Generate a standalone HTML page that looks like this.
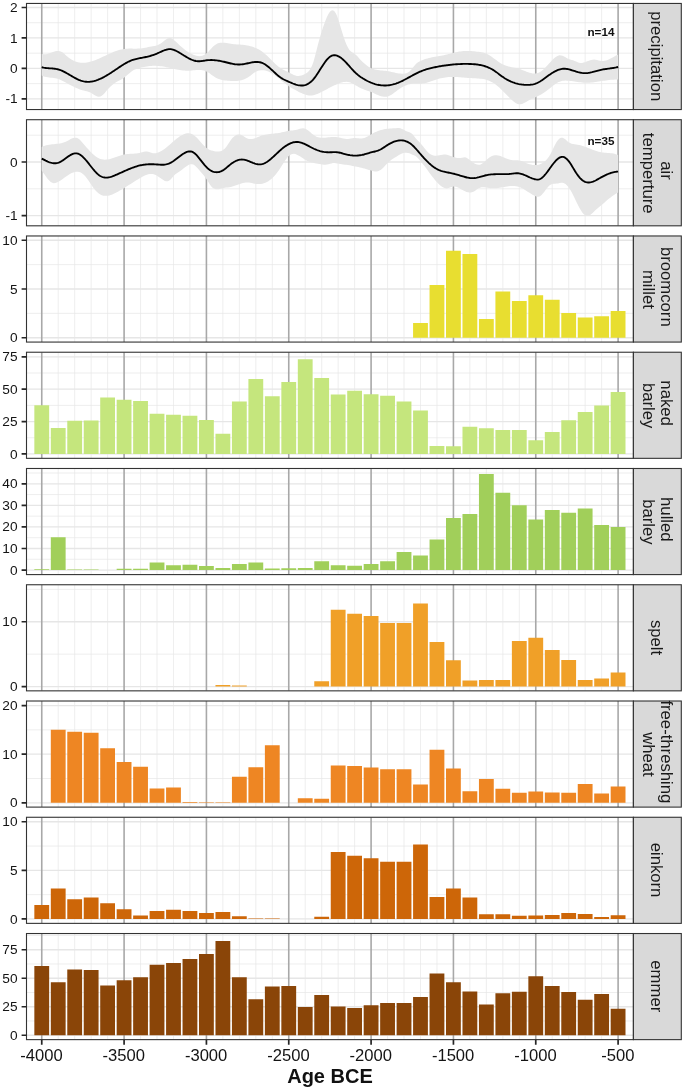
<!DOCTYPE html>
<html lang="en"><head><meta charset="utf-8"><title>Age BCE chart</title>
<style>html,body{margin:0;padding:0;background:#fff}body{width:685px;height:1090px;overflow:hidden}svg{display:block}</style></head>
<body>
<svg width="685" height="1090" viewBox="0 0 685 1090" font-family="'Liberation Sans', sans-serif">
<rect width="685" height="1090" fill="#fff"/>
<defs>
<clipPath id="c0"><rect x="26.5" y="3.45" width="606.9" height="106.1"/></clipPath>
<clipPath id="c1"><rect x="26.5" y="119.71" width="606.9" height="106.1"/></clipPath>
<clipPath id="c2"><rect x="26.5" y="235.97" width="606.9" height="106.1"/></clipPath>
<clipPath id="c3"><rect x="26.5" y="352.23" width="606.9" height="106.1"/></clipPath>
<clipPath id="c4"><rect x="26.5" y="468.49" width="606.9" height="106.1"/></clipPath>
<clipPath id="c5"><rect x="26.5" y="584.75" width="606.9" height="106.1"/></clipPath>
<clipPath id="c6"><rect x="26.5" y="701.01" width="606.9" height="106.1"/></clipPath>
<clipPath id="c7"><rect x="26.5" y="817.27" width="606.9" height="106.1"/></clipPath>
<clipPath id="c8"><rect x="26.5" y="933.53" width="606.9" height="106.1"/></clipPath>
</defs>
<g clip-path="url(#c0)">
<path d="M26.5,83.62H633.4M26.5,53.18H633.4M26.5,22.73H633.4M58.22,3.45V109.55M74.68,3.45V109.55M91.15,3.45V109.55M107.62,3.45V109.55M140.55,3.45V109.55M157.02,3.45V109.55M173.49,3.45V109.55M189.95,3.45V109.55M222.89,3.45V109.55M239.35,3.45V109.55M255.82,3.45V109.55M272.29,3.45V109.55M305.22,3.45V109.55M321.69,3.45V109.55M338.16,3.45V109.55M354.62,3.45V109.55M387.56,3.45V109.55M404.02,3.45V109.55M420.49,3.45V109.55M436.96,3.45V109.55M469.89,3.45V109.55M486.36,3.45V109.55M502.83,3.45V109.55M519.29,3.45V109.55M552.23,3.45V109.55M568.69,3.45V109.55M585.16,3.45V109.55M601.63,3.45V109.55" stroke="#e7e7e7" stroke-width="0.7" fill="none"/>
<path d="M26.5,98.85H633.4M26.5,68.4H633.4M26.5,37.95H633.4M26.5,7.5H633.4" stroke="#e6e6e6" stroke-width="1.3" fill="none"/>
<path d="M41.75,3.45V109.55M124.09,3.45V109.55M206.42,3.45V109.55M288.75,3.45V109.55M371.09,3.45V109.55M453.43,3.45V109.55M535.76,3.45V109.55M618.1,3.45V109.55" stroke="#a8a8a8" stroke-width="1.6" fill="none"/>
<path d="M41.75,54L43.25,54.31L44.75,54.34L46.25,54.14L47.75,53.78L49.25,53.3L50.76,52.75L52.26,52.2L53.76,51.69L55.26,51.28L56.76,51.02L58.26,50.97L59.76,51.18L61.26,51.71L62.76,52.6L64.26,53.79L65.76,55.13L67.27,56.46L68.77,57.67L70.27,58.77L71.77,59.74L73.27,60.58L74.77,61.27L76.27,61.82L77.77,62.24L79.27,62.53L80.77,62.7L82.27,62.77L83.78,62.75L85.28,62.64L86.78,62.44L88.28,62.17L89.78,61.83L91.28,61.42L92.78,60.96L94.28,60.44L95.78,59.88L97.28,59.28L98.78,58.65L100.29,57.99L101.79,57.31L103.29,56.61L104.79,55.91L106.29,55.2L107.79,54.5L109.29,53.81L110.79,53.14L112.29,52.49L113.79,51.87L115.29,51.29L116.79,50.75L118.3,50.26L119.8,49.82L121.3,49.44L122.8,49.13L124.3,48.9L125.8,48.74L127.3,48.64L128.8,48.59L130.3,48.59L131.8,48.6L133.3,48.63L134.81,48.65L136.31,48.65L137.81,48.62L139.31,48.55L140.81,48.42L142.31,48.22L143.81,47.97L145.31,47.69L146.81,47.4L148.31,47.11L149.81,46.85L151.32,46.59L152.82,46.33L154.32,46.02L155.82,45.63L157.32,45.15L158.82,44.53L160.32,43.75L161.82,42.78L163.32,41.62L164.82,40.37L166.32,39.23L167.83,38.34L169.33,37.89L170.83,38.03L172.33,38.79L173.83,39.91L175.33,41.19L176.83,42.56L178.33,43.99L179.83,45.42L181.33,46.8L182.83,48.1L184.34,49.3L185.84,50.41L187.34,51.44L188.84,52.38L190.34,53.26L191.84,54.06L193.34,54.76L194.84,55.34L196.34,55.78L197.84,56.06L199.34,56.15L200.85,56.03L202.35,55.69L203.85,55.09L205.35,54.23L206.85,53.07L208.35,51.64L209.85,50.06L211.35,48.43L212.85,46.87L214.35,45.5L215.85,44.41L217.36,43.62L218.86,43.08L220.36,42.76L221.86,42.63L223.36,42.66L224.86,42.79L226.36,43.02L227.86,43.28L229.36,43.56L230.86,43.82L232.36,44.03L233.87,44.19L235.37,44.31L236.87,44.41L238.37,44.51L239.87,44.61L241.37,44.73L242.87,44.87L244.37,45.04L245.87,45.25L247.37,45.5L248.87,45.8L250.37,46.16L251.88,46.58L253.38,47.07L254.88,47.63L256.38,48.28L257.88,49.01L259.38,49.85L260.88,50.78L262.38,51.82L263.88,52.98L265.38,54.25L266.88,55.62L268.39,57.07L269.89,58.56L271.39,60.07L272.89,61.57L274.39,63.04L275.89,64.45L277.39,65.78L278.89,66.99L280.39,68.07L281.89,69L283.39,69.81L284.9,70.54L286.4,71.24L287.9,71.94L289.4,72.7L290.9,73.51L292.4,74.3L293.9,75.01L295.4,75.57L296.9,75.92L298.4,76L299.9,75.84L301.41,75.47L302.91,74.92L304.41,74.24L305.91,73.46L307.41,72.49L308.91,71.09L310.41,69.03L311.91,66.06L313.41,61.95L314.91,56.62L316.41,50.65L317.92,44.74L319.42,39.18L320.92,33.99L322.42,29.16L323.92,24.72L325.42,20.68L326.92,17.09L328.42,14.06L329.92,11.77L331.42,10.42L332.92,10.17L334.43,11.19L335.93,13.46L337.43,16.92L338.93,21.39L340.43,26.43L341.93,31.55L343.43,36.34L344.93,40.65L346.43,44.42L347.93,47.55L349.43,49.95L350.94,51.53L352.44,52.5L353.94,53.31L355.44,54.4L356.94,55.86L358.44,57.51L359.94,59.16L361.44,60.72L362.94,62.19L364.44,63.55L365.94,64.8L367.44,65.92L368.95,66.91L370.45,67.77L371.95,68.48L373.45,69.04L374.95,69.49L376.45,69.83L377.95,70.1L379.45,70.3L380.95,70.45L382.45,70.59L383.95,70.71L385.46,70.86L386.96,71.04L388.46,71.28L389.96,71.56L391.46,71.89L392.96,72.23L394.46,72.58L395.96,72.91L397.46,73.2L398.96,73.44L400.46,73.62L401.97,73.71L403.47,73.69L404.97,73.55L406.47,73.22L407.97,72.6L409.47,71.59L410.97,70.12L412.47,68.29L413.97,66.35L415.47,64.54L416.97,63.1L418.48,62.04L419.98,61.22L421.48,60.53L422.98,59.91L424.48,59.35L425.98,58.86L427.48,58.41L428.98,58.01L430.48,57.65L431.98,57.33L433.48,57.03L434.99,56.75L436.49,56.48L437.99,56.22L439.49,55.96L440.99,55.7L442.49,55.43L443.99,55.13L445.49,54.81L446.99,54.46L448.49,54.1L449.99,53.72L451.5,53.33L453,52.95L454.5,52.58L456,52.23L457.5,51.91L459,51.62L460.5,51.38L462,51.18L463.5,51.05L465,50.96L466.5,50.92L468.01,50.93L469.51,50.97L471.01,51.05L472.51,51.17L474.01,51.3L475.51,51.46L477.01,51.64L478.51,51.83L480.01,52.04L481.51,52.3L483.01,52.62L484.52,53.05L486.02,53.59L487.52,54.28L489.02,55.11L490.52,56.04L492.02,57.06L493.52,58.13L495.02,59.23L496.52,60.33L498.02,61.41L499.52,62.44L501.02,63.39L502.53,64.24L504.03,64.97L505.53,65.57L507.03,66.08L508.53,66.51L510.03,66.87L511.53,67.2L513.03,67.5L514.53,67.8L516.03,68.12L517.53,68.47L519.04,68.88L520.54,69.35L522.04,69.88L523.54,70.46L525.04,71.04L526.54,71.63L528.04,72.18L529.54,72.69L531.04,73.11L532.54,73.4L534.04,73.53L535.55,73.47L537.05,73.17L538.55,72.64L540.05,71.88L541.55,70.91L543.05,69.74L544.55,68.38L546.05,66.86L547.55,65.22L549.05,63.54L550.55,61.88L552.06,60.28L553.56,58.8L555.06,57.52L556.56,56.47L558.06,55.73L559.56,55.35L561.06,55.39L562.56,55.82L564.06,56.52L565.56,57.36L567.06,58.22L568.57,58.98L570.07,59.53L571.57,59.96L573.07,60.37L574.57,60.9L576.07,61.54L577.57,62.18L579.07,62.69L580.57,62.94L582.07,62.89L583.57,62.6L585.08,62.14L586.58,61.57L588.08,60.96L589.58,60.39L591.08,59.93L592.58,59.63L594.08,59.58L595.58,59.75L597.08,60.08L598.58,60.45L600.08,60.79L601.59,61L603.09,61.01L604.59,60.83L606.09,60.47L607.59,59.96L609.09,59.33L610.59,58.61L612.09,57.81L613.59,56.97L615.09,56.1L616.59,55.24L618.1,54.4L618.1,79.61L616.59,79.57L615.09,79.58L613.59,79.63L612.09,79.73L610.59,79.86L609.09,80.02L607.59,80.2L606.09,80.41L604.59,80.63L603.09,80.87L601.59,81.1L600.08,81.34L598.58,81.58L597.08,81.81L595.58,82.02L594.08,82.22L592.58,82.39L591.08,82.53L589.58,82.64L588.08,82.7L586.58,82.73L585.08,82.71L583.57,82.63L582.07,82.52L580.57,82.36L579.07,82.18L577.57,81.97L576.07,81.76L574.57,81.54L573.07,81.32L571.57,81.11L570.07,80.93L568.57,80.77L567.06,80.65L565.56,80.59L564.06,80.64L562.56,80.81L561.06,81.14L559.56,81.65L558.06,82.35L556.56,83.21L555.06,84.2L553.56,85.29L552.06,86.45L550.55,87.66L549.05,88.88L547.55,90.09L546.05,91.25L544.55,92.35L543.05,93.35L541.55,94.25L540.05,95.07L538.55,95.82L537.05,96.54L535.55,97.22L534.04,97.89L532.54,98.57L531.04,99.27L529.54,100.01L528.04,100.82L526.54,101.69L525.04,102.57L523.54,103.37L522.04,103.99L520.54,104.32L519.04,104.29L517.53,103.88L516.03,103.15L514.53,102.17L513.03,100.98L511.53,99.64L510.03,98.22L508.53,96.74L507.03,95.23L505.53,93.7L504.03,92.16L502.53,90.65L501.02,89.18L499.52,87.76L498.02,86.42L496.52,85.18L495.02,84.04L493.52,83.03L492.02,82.16L490.52,81.4L489.02,80.75L487.52,80.21L486.02,79.75L484.52,79.37L483.01,79.07L481.51,78.83L480.01,78.64L478.51,78.5L477.01,78.39L475.51,78.3L474.01,78.23L472.51,78.16L471.01,78.09L469.51,78.01L468.01,77.9L466.5,77.78L465,77.65L463.5,77.52L462,77.39L460.5,77.26L459,77.15L457.5,77.05L456,76.98L454.5,76.93L453,76.92L451.5,76.94L449.99,77.01L448.49,77.11L446.99,77.25L445.49,77.44L443.99,77.67L442.49,77.93L440.99,78.25L439.49,78.6L437.99,79L436.49,79.45L434.99,79.94L433.48,80.45L431.98,80.97L430.48,81.5L428.98,82L427.48,82.48L425.98,82.91L424.48,83.27L422.98,83.56L421.48,83.76L419.98,83.86L418.48,83.86L416.97,83.8L415.47,83.73L413.97,83.7L412.47,83.74L410.97,83.91L409.47,84.2L407.97,84.62L406.47,85.15L404.97,85.79L403.47,86.53L401.97,87.36L400.46,88.28L398.96,89.29L397.46,90.36L395.96,91.48L394.46,92.61L392.96,93.7L391.46,94.69L389.96,95.54L388.46,96.2L386.96,96.64L385.46,96.82L383.95,96.78L382.45,96.56L380.95,96.18L379.45,95.68L377.95,95.08L376.45,94.42L374.95,93.72L373.45,93.03L371.95,92.36L370.45,91.76L368.95,91.21L367.44,90.7L365.94,90.19L364.44,89.66L362.94,89.08L361.44,88.43L359.94,87.71L358.44,86.92L356.94,86.09L355.44,85.22L353.94,84.33L352.44,83.47L350.94,82.75L349.43,82.23L347.93,81.93L346.43,81.82L344.93,81.88L343.43,82.09L341.93,82.42L340.43,82.87L338.93,83.39L337.43,83.99L335.93,84.63L334.43,85.32L332.92,86.04L331.42,86.8L329.92,87.58L328.42,88.37L326.92,89.17L325.42,89.97L323.92,90.77L322.42,91.56L320.92,92.32L319.42,93.06L317.92,93.73L316.41,94.33L314.91,94.84L313.41,95.22L311.91,95.46L310.41,95.54L308.91,95.45L307.41,95.2L305.91,94.83L304.41,94.35L302.91,93.76L301.41,93.11L299.9,92.39L298.4,91.64L296.9,90.87L295.4,90.09L293.9,89.3L292.4,88.46L290.9,87.58L289.4,86.64L287.9,85.62L286.4,84.52L284.9,83.37L283.39,82.17L281.89,80.95L280.39,79.72L278.89,78.5L277.39,77.31L275.89,76.15L274.39,75.05L272.89,74.03L271.39,73.1L269.89,72.28L268.39,71.57L266.88,70.99L265.38,70.55L263.88,70.26L262.38,70.13L260.88,70.18L259.38,70.41L257.88,70.84L256.38,71.47L254.88,72.32L253.38,73.35L251.88,74.48L250.37,75.64L248.87,76.77L247.37,77.78L245.87,78.62L244.37,79.31L242.87,79.85L241.37,80.27L239.87,80.57L238.37,80.77L236.87,80.9L235.37,80.96L233.87,80.96L232.36,80.93L230.86,80.88L229.36,80.82L227.86,80.74L226.36,80.62L224.86,80.45L223.36,80.23L221.86,79.92L220.36,79.53L218.86,79.04L217.36,78.43L215.85,77.69L214.35,76.81L212.85,75.8L211.35,74.71L209.85,73.61L208.35,72.58L206.85,71.67L205.35,70.97L203.85,70.46L202.35,70.13L200.85,69.94L199.34,69.88L197.84,69.92L196.34,70.03L194.84,70.18L193.34,70.36L191.84,70.52L190.34,70.65L188.84,70.73L187.34,70.74L185.84,70.68L184.34,70.58L182.83,70.43L181.33,70.23L179.83,70L178.33,69.73L176.83,69.44L175.33,69.13L173.83,68.81L172.33,68.48L170.83,68.14L169.33,67.81L167.83,67.48L166.32,67.17L164.82,66.87L163.32,66.6L161.82,66.36L160.32,66.16L158.82,66L157.32,65.88L155.82,65.81L154.32,65.8L152.82,65.83L151.32,65.91L149.81,66.04L148.31,66.21L146.81,66.41L145.31,66.66L143.81,66.94L142.31,67.25L140.81,67.6L139.31,67.97L137.81,68.41L136.31,68.93L134.81,69.57L133.3,70.37L131.8,71.35L130.3,72.51L128.8,73.77L127.3,75.08L125.8,76.35L124.3,77.52L122.8,78.54L121.3,79.43L119.8,80.25L118.3,81.04L116.79,81.86L115.29,82.76L113.79,83.77L112.29,84.9L110.79,86.19L109.29,87.65L107.79,89.28L106.29,91.09L104.79,92.89L103.29,94.48L101.79,95.67L100.29,96.39L98.78,96.65L97.28,96.42L95.78,95.79L94.28,94.91L92.78,93.94L91.28,93.04L89.78,92.33L88.28,91.77L86.78,91.34L85.28,90.96L83.78,90.59L82.27,90.19L80.77,89.72L79.27,89.2L77.77,88.62L76.27,87.99L74.77,87.32L73.27,86.6L71.77,85.85L70.27,85.07L68.77,84.26L67.27,83.43L65.76,82.58L64.26,81.74L62.76,80.92L61.26,80.16L59.76,79.49L58.26,78.94L56.76,78.52L55.26,78.22L53.76,77.99L52.26,77.82L50.76,77.67L49.25,77.52L47.75,77.32L46.25,77.06L44.75,76.71L43.25,76.23L41.75,75.6Z" fill="#e6e6e6"/>
<path d="M41.75,67.22L42.75,67.48L43.75,67.69L44.75,67.87L45.75,68L46.75,68.11L47.75,68.19L48.75,68.26L49.75,68.32L50.76,68.38L51.76,68.44L52.76,68.51L53.76,68.6L54.76,68.71L55.76,68.86L56.76,69.04L57.76,69.26L58.76,69.54L59.76,69.87L60.76,70.25L61.76,70.67L62.76,71.12L63.76,71.61L64.76,72.13L65.76,72.68L66.76,73.24L67.77,73.81L68.77,74.39L69.77,74.98L70.77,75.57L71.77,76.15L72.77,76.73L73.77,77.29L74.77,77.84L75.77,78.37L76.77,78.88L77.77,79.36L78.77,79.81L79.77,80.22L80.77,80.59L81.77,80.91L82.77,81.19L83.78,81.42L84.78,81.59L85.78,81.72L86.78,81.79L87.78,81.82L88.78,81.8L89.78,81.74L90.78,81.63L91.78,81.49L92.78,81.3L93.78,81.08L94.78,80.81L95.78,80.52L96.78,80.19L97.78,79.83L98.78,79.43L99.78,79.01L100.79,78.56L101.79,78.09L102.79,77.59L103.79,77.07L104.79,76.52L105.79,75.96L106.79,75.38L107.79,74.78L108.79,74.17L109.79,73.54L110.79,72.91L111.79,72.26L112.79,71.6L113.79,70.93L114.79,70.26L115.79,69.59L116.79,68.91L117.8,68.23L118.8,67.56L119.8,66.89L120.8,66.22L121.8,65.57L122.8,64.93L123.8,64.31L124.8,63.71L125.8,63.13L126.8,62.57L127.8,62.04L128.8,61.54L129.8,61.07L130.8,60.64L131.8,60.24L132.8,59.89L133.81,59.57L134.81,59.29L135.81,59.04L136.81,58.81L137.81,58.6L138.81,58.4L139.81,58.21L140.81,58.03L141.81,57.84L142.81,57.64L143.81,57.44L144.81,57.23L145.81,57.02L146.81,56.79L147.81,56.55L148.81,56.3L149.81,56.03L150.82,55.75L151.82,55.45L152.82,55.13L153.82,54.79L154.82,54.43L155.82,54.04L156.82,53.63L157.82,53.19L158.82,52.73L159.82,52.27L160.82,51.8L161.82,51.35L162.82,50.91L163.82,50.5L164.82,50.12L165.82,49.8L166.82,49.53L167.83,49.33L168.83,49.2L169.83,49.15L170.83,49.2L171.83,49.35L172.83,49.58L173.83,49.9L174.83,50.28L175.83,50.72L176.83,51.22L177.83,51.76L178.83,52.33L179.83,52.93L180.83,53.55L181.83,54.18L182.83,54.8L183.84,55.43L184.84,56.05L185.84,56.65L186.84,57.24L187.84,57.81L188.84,58.35L189.84,58.85L190.84,59.33L191.84,59.76L192.84,60.15L193.84,60.49L194.84,60.77L195.84,61L196.84,61.16L197.84,61.26L198.84,61.29L199.84,61.25L200.85,61.16L201.85,61.04L202.85,60.88L203.85,60.72L204.85,60.55L205.85,60.4L206.85,60.27L207.85,60.17L208.85,60.1L209.85,60.05L210.85,60.03L211.85,60.04L212.85,60.08L213.85,60.13L214.85,60.21L215.85,60.31L216.85,60.43L217.86,60.57L218.86,60.73L219.86,60.91L220.86,61.1L221.86,61.31L222.86,61.53L223.86,61.76L224.86,62.01L225.86,62.26L226.86,62.51L227.86,62.76L228.86,63.01L229.86,63.25L230.86,63.48L231.86,63.69L232.86,63.89L233.87,64.07L234.87,64.22L235.87,64.34L236.87,64.44L237.87,64.49L238.87,64.51L239.87,64.49L240.87,64.43L241.87,64.34L242.87,64.21L243.87,64.06L244.87,63.88L245.87,63.69L246.87,63.48L247.87,63.27L248.87,63.05L249.87,62.84L250.88,62.63L251.88,62.44L252.88,62.27L253.88,62.13L254.88,62.02L255.88,61.96L256.88,61.94L257.88,61.98L258.88,62.08L259.88,62.25L260.88,62.49L261.88,62.81L262.88,63.21L263.88,63.71L264.88,64.29L265.88,64.95L266.88,65.68L267.89,66.46L268.89,67.3L269.89,68.17L270.89,69.07L271.89,70L272.89,70.93L273.89,71.87L274.89,72.8L275.89,73.72L276.89,74.61L277.89,75.47L278.89,76.29L279.89,77.05L280.89,77.75L281.89,78.39L282.89,78.98L283.89,79.52L284.9,80.02L285.9,80.49L286.9,80.94L287.9,81.38L288.9,81.82L289.9,82.25L290.9,82.68L291.9,83.1L292.9,83.51L293.9,83.89L294.9,84.25L295.9,84.58L296.9,84.86L297.9,85.11L298.9,85.3L299.9,85.44L300.91,85.52L301.91,85.53L302.91,85.46L303.91,85.32L304.91,85.1L305.91,84.79L306.91,84.38L307.91,83.88L308.91,83.28L309.91,82.57L310.91,81.76L311.91,80.83L312.91,79.78L313.91,78.61L314.91,77.33L315.91,75.96L316.91,74.5L317.92,72.99L318.92,71.43L319.92,69.85L320.92,68.27L321.92,66.7L322.92,65.16L323.92,63.67L324.92,62.25L325.92,60.92L326.92,59.69L327.92,58.58L328.92,57.61L329.92,56.81L330.92,56.18L331.92,55.71L332.92,55.42L333.92,55.27L334.93,55.27L335.93,55.41L336.93,55.67L337.93,56.06L338.93,56.56L339.93,57.15L340.93,57.85L341.93,58.63L342.93,59.48L343.93,60.4L344.93,61.39L345.93,62.42L346.93,63.5L347.93,64.61L348.93,65.73L349.93,66.87L350.94,68L351.94,69.12L352.94,70.21L353.94,71.26L354.94,72.25L355.94,73.19L356.94,74.07L357.94,74.91L358.94,75.69L359.94,76.44L360.94,77.15L361.94,77.82L362.94,78.46L363.94,79.07L364.94,79.66L365.94,80.22L366.94,80.76L367.95,81.27L368.95,81.74L369.95,82.2L370.95,82.62L371.95,83.01L372.95,83.38L373.95,83.72L374.95,84.03L375.95,84.31L376.95,84.56L377.95,84.78L378.95,84.97L379.95,85.14L380.95,85.27L381.95,85.37L382.95,85.44L383.95,85.48L384.96,85.49L385.96,85.47L386.96,85.42L387.96,85.34L388.96,85.22L389.96,85.08L390.96,84.9L391.96,84.7L392.96,84.46L393.96,84.19L394.96,83.9L395.96,83.57L396.96,83.21L397.96,82.83L398.96,82.42L399.96,81.98L400.97,81.52L401.97,81.05L402.97,80.56L403.97,80.05L404.97,79.53L405.97,79L406.97,78.46L407.97,77.92L408.97,77.37L409.97,76.82L410.97,76.27L411.97,75.73L412.97,75.18L413.97,74.65L414.97,74.12L415.97,73.61L416.97,73.11L417.98,72.62L418.98,72.16L419.98,71.71L420.98,71.29L421.98,70.88L422.98,70.5L423.98,70.14L424.98,69.8L425.98,69.48L426.98,69.17L427.98,68.88L428.98,68.61L429.98,68.35L430.98,68.1L431.98,67.86L432.98,67.64L433.98,67.42L434.99,67.22L435.99,67.02L436.99,66.82L437.99,66.64L438.99,66.45L439.99,66.28L440.99,66.11L441.99,65.94L442.99,65.78L443.99,65.63L444.99,65.48L445.99,65.34L446.99,65.21L447.99,65.08L448.99,64.96L449.99,64.84L450.99,64.73L452,64.63L453,64.53L454,64.44L455,64.36L456,64.28L457,64.21L458,64.15L459,64.1L460,64.05L461,64.01L462,63.97L463,63.95L464,63.93L465,63.92L466,63.92L467,63.92L468.01,63.94L469.01,63.96L470.01,63.99L471.01,64.03L472.01,64.08L473.01,64.14L474.01,64.21L475.01,64.29L476.01,64.4L477.01,64.51L478.01,64.65L479.01,64.81L480.01,64.99L481.01,65.19L482.01,65.41L483.01,65.66L484.01,65.94L485.02,66.25L486.02,66.58L487.02,66.95L488.02,67.35L489.02,67.78L490.02,68.25L491.02,68.76L492.02,69.3L493.02,69.89L494.02,70.51L495.02,71.18L496.02,71.89L497.02,72.63L498.02,73.38L499.02,74.15L500.02,74.92L501.02,75.67L502.03,76.41L503.03,77.12L504.03,77.8L505.03,78.44L506.03,79.04L507.03,79.61L508.03,80.15L509.03,80.66L510.03,81.13L511.03,81.58L512.03,81.99L513.03,82.38L514.03,82.73L515.03,83.06L516.03,83.36L517.03,83.63L518.04,83.88L519.04,84.1L520.04,84.29L521.04,84.45L522.04,84.59L523.04,84.7L524.04,84.79L525.04,84.85L526.04,84.89L527.04,84.9L528.04,84.9L529.04,84.86L530.04,84.79L531.04,84.69L532.04,84.55L533.04,84.36L534.04,84.12L535.05,83.82L536.05,83.46L537.05,83.03L538.05,82.55L539.05,82.01L540.05,81.43L541.05,80.81L542.05,80.15L543.05,79.47L544.05,78.76L545.05,78.04L546.05,77.31L547.05,76.57L548.05,75.84L549.05,75.12L550.05,74.41L551.05,73.73L552.06,73.07L553.06,72.44L554.06,71.85L555.06,71.3L556.06,70.8L557.06,70.34L558.06,69.93L559.06,69.58L560.06,69.28L561.06,69.04L562.06,68.86L563.06,68.74L564.06,68.7L565.06,68.73L566.06,68.83L567.06,68.99L568.07,69.19L569.07,69.43L570.07,69.7L571.07,69.99L572.07,70.28L573.07,70.59L574.07,70.91L575.07,71.22L576.07,71.52L577.07,71.82L578.07,72.1L579.07,72.35L580.07,72.58L581.07,72.78L582.07,72.94L583.07,73.06L584.07,73.14L585.08,73.16L586.08,73.13L587.08,73.06L588.08,72.96L589.08,72.81L590.08,72.63L591.08,72.43L592.08,72.21L593.08,71.96L594.08,71.71L595.08,71.44L596.08,71.17L597.08,70.89L598.08,70.62L599.08,70.36L600.08,70.11L601.08,69.87L602.09,69.66L603.09,69.46L604.09,69.28L605.09,69.12L606.09,68.97L607.09,68.83L608.09,68.69L609.09,68.56L610.09,68.43L611.09,68.29L612.09,68.15L613.09,68L614.09,67.83L615.09,67.65L616.09,67.46L617.09,67.24L618.1,67" fill="none" stroke="#000" stroke-width="1.85" stroke-linejoin="round"/>
</g>
<rect x="26.5" y="3.45" width="606.9" height="106.1" fill="none" stroke="#333333" stroke-width="1.1"/>
<rect x="633.4" y="3.45" width="47.9" height="106.1" fill="#d9d9d9" stroke="#333333" stroke-width="1.1"/>
<text transform="translate(651.3,56.2) rotate(90)" text-anchor="middle" font-size="16.7" fill="#1a1a1a">precipitation</text>
<text x="17.6" y="103.4" text-anchor="end" font-size="13.7" fill="#141414">-1</text>
<text x="17.6" y="72.95" text-anchor="end" font-size="13.7" fill="#141414">0</text>
<text x="17.6" y="42.5" text-anchor="end" font-size="13.7" fill="#141414">1</text>
<text x="17.6" y="12.05" text-anchor="end" font-size="13.7" fill="#141414">2</text>
<path d="M21.6,98.85H26.5M21.6,68.4H26.5M21.6,37.95H26.5M21.6,7.5H26.5" stroke="#262626" stroke-width="1.7" fill="none"/>
<g clip-path="url(#c1)">
<path d="M26.5,188.8H633.4M26.5,135.2H633.4M58.22,119.71V225.81M74.68,119.71V225.81M91.15,119.71V225.81M107.62,119.71V225.81M140.55,119.71V225.81M157.02,119.71V225.81M173.49,119.71V225.81M189.95,119.71V225.81M222.89,119.71V225.81M239.35,119.71V225.81M255.82,119.71V225.81M272.29,119.71V225.81M305.22,119.71V225.81M321.69,119.71V225.81M338.16,119.71V225.81M354.62,119.71V225.81M387.56,119.71V225.81M404.02,119.71V225.81M420.49,119.71V225.81M436.96,119.71V225.81M469.89,119.71V225.81M486.36,119.71V225.81M502.83,119.71V225.81M519.29,119.71V225.81M552.23,119.71V225.81M568.69,119.71V225.81M585.16,119.71V225.81M601.63,119.71V225.81" stroke="#e7e7e7" stroke-width="0.7" fill="none"/>
<path d="M26.5,215.6H633.4M26.5,162H633.4" stroke="#e6e6e6" stroke-width="1.3" fill="none"/>
<path d="M41.75,119.71V225.81M124.09,119.71V225.81M206.42,119.71V225.81M288.75,119.71V225.81M371.09,119.71V225.81M453.43,119.71V225.81M535.76,119.71V225.81M618.1,119.71V225.81" stroke="#a8a8a8" stroke-width="1.6" fill="none"/>
<path d="M41.75,146.95L43.25,146.29L44.75,145.75L46.25,145.32L47.75,144.98L49.25,144.71L50.76,144.5L52.26,144.32L53.76,144.17L55.26,144.02L56.76,143.86L58.26,143.67L59.76,143.44L61.26,143.14L62.76,142.76L64.26,142.29L65.76,141.7L67.27,140.99L68.77,140.17L70.27,139.35L71.77,138.61L73.27,138.05L74.77,137.75L76.27,137.8L77.77,138.31L79.27,139.32L80.77,140.74L82.27,142.42L83.78,144.18L85.28,145.94L86.78,147.68L88.28,149.37L89.78,151L91.28,152.54L92.78,153.98L94.28,155.3L95.78,156.47L97.28,157.48L98.78,158.31L100.29,158.94L101.79,159.37L103.29,159.61L104.79,159.69L106.29,159.62L107.79,159.43L109.29,159.14L110.79,158.77L112.29,158.32L113.79,157.83L115.29,157.31L116.79,156.77L118.3,156.24L119.8,155.72L121.3,155.25L122.8,154.84L124.3,154.5L125.8,154.25L127.3,154.07L128.8,153.94L130.3,153.85L131.8,153.78L133.3,153.7L134.81,153.6L136.31,153.45L137.81,153.25L139.31,152.97L140.81,152.59L142.31,152.14L143.81,151.71L145.31,151.46L146.81,151.5L148.31,151.82L149.81,152.29L151.32,152.78L152.82,153.15L154.32,153.29L155.82,153.18L157.32,152.85L158.82,152.31L160.32,151.6L161.82,150.75L163.32,149.76L164.82,148.67L166.32,147.49L167.83,146.24L169.33,144.95L170.83,143.64L172.33,142.32L173.83,141.02L175.33,139.75L176.83,138.54L178.33,137.41L179.83,136.37L181.33,135.45L182.83,134.67L184.34,134.05L185.84,133.61L187.34,133.37L188.84,133.35L190.34,133.57L191.84,134.06L193.34,134.83L194.84,135.9L196.34,137.25L197.84,138.8L199.34,140.48L200.85,142.21L202.35,143.92L203.85,145.55L205.35,147.01L206.85,148.24L208.35,149.2L209.85,149.93L211.35,150.47L212.85,150.87L214.35,151.17L215.85,151.4L217.36,151.53L218.86,151.5L220.36,151.24L221.86,150.7L223.36,149.82L224.86,148.52L226.36,146.76L227.86,144.57L229.36,142.22L230.86,139.98L232.36,138.1L233.87,136.63L235.37,135.56L236.87,134.87L238.37,134.56L239.87,134.61L241.37,135L242.87,135.73L244.37,136.67L245.87,137.65L247.37,138.47L248.87,138.96L250.37,139.12L251.88,139.02L253.38,138.69L254.88,138.21L256.38,137.63L257.88,137L259.38,136.38L260.88,135.84L262.38,135.37L263.88,134.99L265.38,134.66L266.88,134.39L268.39,134.17L269.89,133.98L271.39,133.81L272.89,133.65L274.39,133.5L275.89,133.33L277.39,133.15L278.89,132.93L280.39,132.67L281.89,132.36L283.39,132.03L284.9,131.68L286.4,131.35L287.9,131.04L289.4,130.79L290.9,130.59L292.4,130.41L293.9,130.22L295.4,129.97L296.9,129.65L298.4,129.22L299.9,128.78L301.41,128.44L302.91,128.3L304.41,128.47L305.91,129.02L307.41,129.88L308.91,131L310.41,132.29L311.91,133.63L313.41,134.87L314.91,135.87L316.41,136.64L317.92,137.2L319.42,137.58L320.92,137.79L322.42,137.87L323.92,137.84L325.42,137.72L326.92,137.56L328.42,137.36L329.92,137.17L331.42,137.01L332.92,136.91L334.43,136.9L335.93,137.01L337.43,137.22L338.93,137.5L340.43,137.83L341.93,138.17L343.43,138.48L344.93,138.74L346.43,138.91L347.93,138.96L349.43,138.86L350.94,138.62L352.44,138.34L353.94,138.11L355.44,138.05L356.94,138.15L358.44,138.32L359.94,138.47L361.44,138.52L362.94,138.36L364.44,137.96L365.94,137.33L367.44,136.56L368.95,135.69L370.45,134.79L371.95,133.92L373.45,133.11L374.95,132.36L376.45,131.68L377.95,131.07L379.45,130.53L380.95,130.07L382.45,129.69L383.95,129.36L385.46,129.09L386.96,128.87L388.46,128.7L389.96,128.55L391.46,128.43L392.96,128.33L394.46,128.24L395.96,128.15L397.46,128.08L398.96,128.12L400.46,128.36L401.97,128.89L403.47,129.61L404.97,130.41L406.47,131.17L407.97,131.77L409.47,132.32L410.97,133.07L412.47,134.27L413.97,136L415.47,137.92L416.97,139.67L418.48,141.21L419.98,142.74L421.48,144.43L422.98,146.28L424.48,148.19L425.98,150.04L427.48,151.73L428.98,153.15L430.48,154.22L431.98,154.98L433.48,155.45L434.99,155.68L436.49,155.69L437.99,155.54L439.49,155.28L440.99,154.99L442.49,154.73L443.99,154.58L445.49,154.61L446.99,154.85L448.49,155.27L449.99,155.79L451.5,156.35L453,156.9L454.5,157.37L456,157.74L457.5,157.98L459,158.08L460.5,158.02L462,157.79L463.5,157.48L465,157.35L466.5,157.71L468.01,158.63L469.51,159.85L471.01,161.09L472.51,162.24L474.01,163.23L475.51,164.02L477.01,164.56L478.51,164.77L480.01,164.63L481.51,164.06L483.01,163.04L484.52,161.68L486.02,160.22L487.52,158.89L489.02,157.76L490.52,156.83L492.02,156.11L493.52,155.61L495.02,155.33L496.52,155.27L498.02,155.44L499.52,155.81L501.02,156.32L502.53,156.92L504.03,157.57L505.53,158.22L507.03,158.84L508.53,159.37L510.03,159.79L511.53,160.05L513.03,160.16L514.53,160.18L516.03,160.18L517.53,160.23L519.04,160.4L520.54,160.74L522.04,161.24L523.54,161.84L525.04,162.48L526.54,163.13L528.04,163.72L529.54,164.22L531.04,164.62L532.54,164.9L534.04,165.05L535.55,165.07L537.05,164.93L538.55,164.63L540.05,164.15L541.55,163.49L543.05,162.63L544.55,161.56L546.05,160.24L547.55,158.59L549.05,156.52L550.55,153.98L552.06,151L553.56,147.85L555.06,144.79L556.56,142.09L558.06,139.93L559.56,138.42L561.06,137.63L562.56,137.64L564.06,138.38L565.56,139.58L567.06,140.95L568.57,142.2L570.07,143.1L571.57,143.69L573.07,144.04L574.57,144.26L576.07,144.43L577.57,144.65L579.07,144.94L580.57,145.32L582.07,145.75L583.57,146.24L585.08,146.77L586.58,147.33L588.08,147.92L589.58,148.51L591.08,149.1L592.58,149.69L594.08,150.25L595.58,150.78L597.08,151.27L598.58,151.71L600.08,152.08L601.59,152.38L603.09,152.59L604.59,152.75L606.09,152.86L607.59,152.96L609.09,153.06L610.59,153.19L612.09,153.36L613.59,153.61L615.09,153.94L616.59,154.4L618.1,154.99L618.1,192.4L616.59,193.21L615.09,194.13L613.59,195.14L612.09,196.23L610.59,197.38L609.09,198.59L607.59,199.83L606.09,201.11L604.59,202.4L603.09,203.69L601.59,204.98L600.08,206.25L598.58,207.51L597.08,208.8L595.58,210.11L594.08,211.48L592.58,212.9L591.08,214.28L589.58,215.4L588.08,216.04L586.58,216.02L585.08,215.34L583.57,214.03L582.07,212.16L580.57,209.83L579.07,207.14L577.57,204.21L576.07,201.13L574.57,198.01L573.07,194.95L571.57,192.06L570.07,189.44L568.57,187.2L567.06,185.42L565.56,184.11L564.06,183.26L562.56,182.86L561.06,182.85L559.56,183.08L558.06,183.38L556.56,183.59L555.06,183.66L553.56,183.75L552.06,184.02L550.55,184.66L549.05,185.82L547.55,187.45L546.05,189.37L544.55,191.4L543.05,193.34L541.55,195L540.05,196.2L538.55,196.76L537.05,196.64L535.55,196.13L534.04,195.45L532.54,194.66L531.04,193.79L529.54,192.85L528.04,191.88L526.54,190.91L525.04,189.96L523.54,189.06L522.04,188.23L520.54,187.51L519.04,186.91L517.53,186.47L516.03,186.16L514.53,185.98L513.03,185.9L511.53,185.92L510.03,186.02L508.53,186.18L507.03,186.4L505.53,186.65L504.03,186.93L502.53,187.21L501.02,187.49L499.52,187.74L498.02,187.96L496.52,188.14L495.02,188.24L493.52,188.27L492.02,188.23L490.52,188.13L489.02,187.97L487.52,187.78L486.02,187.57L484.52,187.37L483.01,187.27L481.51,187.34L480.01,187.68L478.51,188.36L477.01,189.36L475.51,190.46L474.01,191.44L472.51,192.1L471.01,192.44L469.51,192.49L468.01,192.3L466.5,191.89L465,191.31L463.5,190.6L462,189.78L460.5,188.91L459,188.05L457.5,187.29L456,186.72L454.5,186.43L453,186.51L451.5,186.95L449.99,187.55L448.49,188.12L446.99,188.44L445.49,188.35L443.99,187.87L442.49,187.08L440.99,186.03L439.49,184.76L437.99,183.31L436.49,181.7L434.99,179.95L433.48,178.1L431.98,176.16L430.48,174.17L428.98,172.14L427.48,170.11L425.98,168.09L424.48,166.09L422.98,164.14L421.48,162.23L419.98,160.38L418.48,158.65L416.97,157.16L415.47,156.03L413.97,155.27L412.47,154.65L410.97,154.01L409.47,153.37L407.97,152.89L406.47,152.67L404.97,152.73L403.47,153.04L401.97,153.56L400.46,154.25L398.96,155.06L397.46,155.96L395.96,156.89L394.46,157.82L392.96,158.77L391.46,159.8L389.96,160.93L388.46,162.23L386.96,163.72L385.46,165.36L383.95,167L382.45,168.46L380.95,169.66L379.45,170.56L377.95,171.15L376.45,171.42L374.95,171.39L373.45,171.14L371.95,170.76L370.45,170.32L368.95,169.88L367.44,169.44L365.94,169L364.44,168.58L362.94,168.17L361.44,167.79L359.94,167.43L358.44,167.08L356.94,166.76L355.44,166.46L353.94,166.17L352.44,165.89L350.94,165.62L349.43,165.37L347.93,165.12L346.43,164.87L344.93,164.63L343.43,164.39L341.93,164.15L340.43,163.91L338.93,163.66L337.43,163.41L335.93,163.19L334.43,163.07L332.92,163.12L331.42,163.38L329.92,163.77L328.42,164.2L326.92,164.56L325.42,164.75L323.92,164.69L322.42,164.44L320.92,164.15L319.42,163.89L317.92,163.64L316.41,163.39L314.91,163.13L313.41,162.82L311.91,162.46L310.41,162.04L308.91,161.53L307.41,160.91L305.91,160.18L304.41,159.31L302.91,158.34L301.41,157.32L299.9,156.32L298.4,155.41L296.9,154.66L295.4,154.12L293.9,153.87L292.4,153.97L290.9,154.48L289.4,155.42L287.9,156.84L286.4,158.68L284.9,160.83L283.39,163.17L281.89,165.58L280.39,167.95L278.89,170.19L277.39,172.27L275.89,174.18L274.39,175.93L272.89,177.5L271.39,178.89L269.89,180.11L268.39,181.14L266.88,182.01L265.38,182.71L263.88,183.26L262.38,183.66L260.88,183.92L259.38,184.05L257.88,184.05L256.38,183.93L254.88,183.7L253.38,183.4L251.88,183.07L250.37,182.76L248.87,182.53L247.37,182.43L245.87,182.49L244.37,182.7L242.87,183.02L241.37,183.43L239.87,183.92L238.37,184.44L236.87,184.99L235.37,185.53L233.87,186.04L232.36,186.5L230.86,186.88L229.36,187.17L227.86,187.39L226.36,187.6L224.86,187.82L223.36,188.09L221.86,188.44L220.36,188.84L218.86,189.17L217.36,189.34L215.85,189.25L214.35,188.8L212.85,187.88L211.35,186.39L209.85,184.39L208.35,182.1L206.85,179.74L205.35,177.54L203.85,175.54L202.35,173.7L200.85,171.96L199.34,170.28L197.84,168.6L196.34,166.94L194.84,165.51L193.34,164.57L191.84,164.19L190.34,164.31L188.84,164.83L187.34,165.65L185.84,166.68L184.34,167.84L182.83,169.03L181.33,170.16L179.83,171.18L178.33,172.16L176.83,173.2L175.33,174.36L173.83,175.75L172.33,177.41L170.83,179.13L169.33,180.53L167.83,181.27L166.32,181.35L164.82,180.91L163.32,180.12L161.82,179.1L160.32,178L158.82,176.9L157.32,175.89L155.82,175.03L154.32,174.41L152.82,174.05L151.32,173.93L149.81,174.03L148.31,174.32L146.81,174.77L145.31,175.36L143.81,176.06L142.31,176.84L140.81,177.68L139.31,178.55L137.81,179.45L136.31,180.37L134.81,181.31L133.3,182.25L131.8,183.21L130.3,184.16L128.8,185.12L127.3,186.07L125.8,187.02L124.3,187.95L122.8,188.86L121.3,189.76L119.8,190.62L118.3,191.46L116.79,192.27L115.29,193.03L113.79,193.75L112.29,194.39L110.79,194.95L109.29,195.39L107.79,195.71L106.29,195.86L104.79,195.85L103.29,195.64L101.79,195.22L100.29,194.55L98.78,193.61L97.28,192.36L95.78,190.79L94.28,188.94L92.78,186.89L91.28,184.72L89.78,182.51L88.28,180.33L86.78,178.25L85.28,176.37L83.78,174.74L82.27,173.46L80.77,172.54L79.27,171.96L77.77,171.69L76.27,171.69L74.77,171.93L73.27,172.39L71.77,173.02L70.27,173.81L68.77,174.72L67.27,175.72L65.76,176.78L64.26,177.87L62.76,178.95L61.26,180L59.76,180.98L58.26,181.87L56.76,182.62L55.26,183.11L53.76,183.22L52.26,182.84L50.76,181.95L49.25,180.62L47.75,178.94L46.25,177L44.75,174.87L43.25,172.64L41.75,170.4Z" fill="#e6e6e6"/>
<path d="M41.75,158.59L42.75,159.13L43.75,159.67L44.75,160.19L45.75,160.69L46.75,161.16L47.75,161.61L48.75,162.01L49.75,162.37L50.76,162.68L51.76,162.93L52.76,163.12L53.76,163.24L54.76,163.28L55.76,163.24L56.76,163.11L57.76,162.88L58.76,162.56L59.76,162.13L60.76,161.62L61.76,161.03L62.76,160.39L63.76,159.7L64.76,158.99L65.76,158.26L66.76,157.53L67.77,156.82L68.77,156.13L69.77,155.49L70.77,154.9L71.77,154.38L72.77,153.95L73.77,153.62L74.77,153.41L75.77,153.32L76.77,153.38L77.77,153.59L78.77,153.97L79.77,154.49L80.77,155.14L81.77,155.92L82.77,156.81L83.78,157.79L84.78,158.86L85.78,159.99L86.78,161.18L87.78,162.41L88.78,163.67L89.78,164.95L90.78,166.23L91.78,167.5L92.78,168.75L93.78,169.96L94.78,171.12L95.78,172.21L96.78,173.23L97.78,174.16L98.78,174.99L99.78,175.7L100.79,176.28L101.79,176.75L102.79,177.11L103.79,177.36L104.79,177.52L105.79,177.59L106.79,177.57L107.79,177.49L108.79,177.33L109.79,177.11L110.79,176.85L111.79,176.53L112.79,176.18L113.79,175.79L114.79,175.39L115.79,174.96L116.79,174.53L117.8,174.09L118.8,173.65L119.8,173.2L120.8,172.75L121.8,172.29L122.8,171.84L123.8,171.39L124.8,170.94L125.8,170.5L126.8,170.06L127.8,169.63L128.8,169.21L129.8,168.79L130.8,168.39L131.8,168L132.8,167.62L133.81,167.26L134.81,166.91L135.81,166.58L136.81,166.27L137.81,165.98L138.81,165.71L139.81,165.47L140.81,165.24L141.81,165.05L142.81,164.87L143.81,164.72L144.81,164.6L145.81,164.49L146.81,164.4L147.81,164.34L148.81,164.29L149.81,164.26L150.82,164.24L151.82,164.25L152.82,164.26L153.82,164.29L154.82,164.34L155.82,164.39L156.82,164.46L157.82,164.54L158.82,164.61L159.82,164.69L160.82,164.74L161.82,164.77L162.82,164.76L163.82,164.71L164.82,164.6L165.82,164.43L166.82,164.19L167.83,163.89L168.83,163.53L169.83,163.1L170.83,162.61L171.83,162.07L172.83,161.46L173.83,160.81L174.83,160.1L175.83,159.36L176.83,158.59L177.83,157.8L178.83,157.02L179.83,156.24L180.83,155.48L181.83,154.75L182.83,154.06L183.84,153.43L184.84,152.86L185.84,152.37L186.84,151.97L187.84,151.67L188.84,151.48L189.84,151.41L190.84,151.48L191.84,151.7L192.84,152.1L193.84,152.7L194.84,153.48L195.84,154.41L196.84,155.46L197.84,156.61L198.84,157.82L199.84,159.07L200.85,160.36L201.85,161.64L202.85,162.92L203.85,164.16L204.85,165.35L205.85,166.46L206.85,167.49L207.85,168.42L208.85,169.24L209.85,169.96L210.85,170.58L211.85,171.1L212.85,171.53L213.85,171.85L214.85,172.07L215.85,172.2L216.85,172.23L217.86,172.16L218.86,171.99L219.86,171.73L220.86,171.37L221.86,170.91L222.86,170.36L223.86,169.72L224.86,169L225.86,168.22L226.86,167.4L227.86,166.57L228.86,165.72L229.86,164.9L230.86,164.1L231.86,163.35L232.86,162.66L233.87,162.03L234.87,161.46L235.87,160.96L236.87,160.52L237.87,160.16L238.87,159.88L239.87,159.67L240.87,159.55L241.87,159.51L242.87,159.57L243.87,159.7L244.87,159.9L245.87,160.17L246.87,160.48L247.87,160.84L248.87,161.22L249.87,161.62L250.88,162.03L251.88,162.44L252.88,162.84L253.88,163.21L254.88,163.56L255.88,163.85L256.88,164.1L257.88,164.28L258.88,164.39L259.88,164.41L260.88,164.34L261.88,164.16L262.88,163.89L263.88,163.52L264.88,163.06L265.88,162.53L266.88,161.92L267.89,161.25L268.89,160.52L269.89,159.73L270.89,158.91L271.89,158.04L272.89,157.15L273.89,156.23L274.89,155.3L275.89,154.36L276.89,153.41L277.89,152.47L278.89,151.55L279.89,150.64L280.89,149.76L281.89,148.9L282.89,148.09L283.89,147.31L284.9,146.57L285.9,145.87L286.9,145.22L287.9,144.62L288.9,144.07L289.9,143.57L290.9,143.14L291.9,142.77L292.9,142.46L293.9,142.22L294.9,142.05L295.9,141.96L296.9,141.94L297.9,142L298.9,142.14L299.9,142.34L300.91,142.61L301.91,142.93L302.91,143.3L303.91,143.71L304.91,144.16L305.91,144.63L306.91,145.13L307.91,145.65L308.91,146.18L309.91,146.7L310.91,147.23L311.91,147.75L312.91,148.25L313.91,148.73L314.91,149.18L315.91,149.6L316.91,150L317.92,150.37L318.92,150.71L319.92,151.02L320.92,151.29L321.92,151.54L322.92,151.75L323.92,151.93L324.92,152.07L325.92,152.18L326.92,152.26L327.92,152.29L328.92,152.3L329.92,152.29L330.92,152.26L331.92,152.23L332.92,152.2L333.92,152.18L334.93,152.18L335.93,152.2L336.93,152.27L337.93,152.37L338.93,152.53L339.93,152.73L340.93,152.97L341.93,153.23L342.93,153.52L343.93,153.8L344.93,154.09L345.93,154.36L346.93,154.61L347.93,154.84L348.93,155.03L349.93,155.2L350.94,155.34L351.94,155.45L352.94,155.54L353.94,155.59L354.94,155.62L355.94,155.61L356.94,155.58L357.94,155.51L358.94,155.42L359.94,155.29L360.94,155.14L361.94,154.95L362.94,154.73L363.94,154.49L364.94,154.21L365.94,153.93L366.94,153.63L367.95,153.32L368.95,153.02L369.95,152.73L370.95,152.46L371.95,152.2L372.95,151.96L373.95,151.73L374.95,151.48L375.95,151.22L376.95,150.92L377.95,150.58L378.95,150.19L379.95,149.72L380.95,149.2L381.95,148.62L382.95,148L383.95,147.35L384.96,146.69L385.96,146.02L386.96,145.37L387.96,144.74L388.96,144.14L389.96,143.58L390.96,143.05L391.96,142.57L392.96,142.12L393.96,141.72L394.96,141.37L395.96,141.07L396.96,140.81L397.96,140.62L398.96,140.48L399.96,140.39L400.97,140.37L401.97,140.42L402.97,140.53L403.97,140.7L404.97,140.95L405.97,141.27L406.97,141.67L407.97,142.14L408.97,142.7L409.97,143.33L410.97,144.05L411.97,144.86L412.97,145.75L413.97,146.73L414.97,147.77L415.97,148.87L416.97,150L417.98,151.16L418.98,152.34L419.98,153.52L420.98,154.68L421.98,155.83L422.98,156.95L423.98,158.05L424.98,159.13L425.98,160.17L426.98,161.19L427.98,162.16L428.98,163.11L429.98,164.01L430.98,164.88L431.98,165.7L432.98,166.47L433.98,167.2L434.99,167.87L435.99,168.49L436.99,169.06L437.99,169.57L438.99,170.02L439.99,170.43L440.99,170.79L441.99,171.12L442.99,171.41L443.99,171.67L444.99,171.91L445.99,172.13L446.99,172.33L447.99,172.52L448.99,172.72L449.99,172.91L450.99,173.1L452,173.31L453,173.53L454,173.77L455,174.03L456,174.3L457,174.59L458,174.89L459,175.2L460,175.51L461,175.82L462,176.13L463,176.43L464,176.72L465,177L466,177.26L467,177.5L468.01,177.7L469.01,177.88L470.01,178.02L471.01,178.12L472.01,178.18L473.01,178.18L474.01,178.14L475.01,178.04L476.01,177.89L477.01,177.7L478.01,177.47L479.01,177.22L480.01,176.94L481.01,176.65L482.01,176.36L483.01,176.06L484.01,175.78L485.02,175.5L486.02,175.26L487.02,175.04L488.02,174.85L489.02,174.69L490.02,174.56L491.02,174.45L492.02,174.36L493.02,174.3L494.02,174.25L495.02,174.21L496.02,174.19L497.02,174.17L498.02,174.17L499.02,174.17L500.02,174.17L501.02,174.18L502.03,174.18L503.03,174.18L504.03,174.18L505.03,174.16L506.03,174.14L507.03,174.11L508.03,174.06L509.03,174L510.03,173.91L511.03,173.81L512.03,173.69L513.03,173.56L514.03,173.43L515.03,173.32L516.03,173.25L517.03,173.23L518.04,173.27L519.04,173.38L520.04,173.57L521.04,173.81L522.04,174.11L523.04,174.46L524.04,174.84L525.04,175.26L526.04,175.69L527.04,176.14L528.04,176.59L529.04,177.04L530.04,177.49L531.04,177.91L532.04,178.3L533.04,178.66L534.04,178.98L535.05,179.24L536.05,179.45L537.05,179.58L538.05,179.58L539.05,179.42L540.05,179.05L541.05,178.49L542.05,177.76L543.05,176.88L544.05,175.86L545.05,174.73L546.05,173.51L547.05,172.22L548.05,170.87L549.05,169.48L550.05,168.08L551.05,166.69L552.06,165.32L553.06,163.99L554.06,162.73L555.06,161.54L556.06,160.45L557.06,159.47L558.06,158.62L559.06,157.92L560.06,157.38L561.06,157.02L562.06,156.86L563.06,156.92L564.06,157.2L565.06,157.69L566.06,158.4L567.06,159.3L568.07,160.39L569.07,161.65L570.07,163.06L571.07,164.59L572.07,166.21L573.07,167.87L574.07,169.54L575.07,171.19L576.07,172.78L577.07,174.28L578.07,175.65L579.07,176.91L580.07,178.05L581.07,179.06L582.07,179.94L583.07,180.69L584.07,181.31L585.08,181.8L586.08,182.15L587.08,182.37L588.08,182.48L589.08,182.48L590.08,182.38L591.08,182.19L592.08,181.92L593.08,181.58L594.08,181.17L595.08,180.72L596.08,180.22L597.08,179.69L598.08,179.14L599.08,178.57L600.08,177.99L601.08,177.42L602.09,176.87L603.09,176.33L604.09,175.82L605.09,175.33L606.09,174.86L607.09,174.41L608.09,174L609.09,173.61L610.09,173.25L611.09,172.92L612.09,172.62L613.09,172.36L614.09,172.13L615.09,171.94L616.09,171.79L617.09,171.68L618.1,171.61" fill="none" stroke="#000" stroke-width="1.85" stroke-linejoin="round"/>
</g>
<rect x="26.5" y="119.71" width="606.9" height="106.1" fill="none" stroke="#333333" stroke-width="1.1"/>
<rect x="633.4" y="119.71" width="47.9" height="106.1" fill="#d9d9d9" stroke="#333333" stroke-width="1.1"/>
<text transform="translate(661,170.56) rotate(90)" text-anchor="middle" font-size="16.7" fill="#1a1a1a">air</text>
<text transform="translate(643.3,173.16) rotate(90)" text-anchor="middle" font-size="16.7" fill="#1a1a1a">temperture</text>
<text x="17.6" y="220.15" text-anchor="end" font-size="13.7" fill="#141414">-1</text>
<text x="17.6" y="166.55" text-anchor="end" font-size="13.7" fill="#141414">0</text>
<path d="M21.6,215.6H26.5M21.6,162H26.5" stroke="#262626" stroke-width="1.7" fill="none"/>
<g clip-path="url(#c2)">
<path d="M26.5,313.37H633.4M26.5,264.61H633.4M58.22,235.97V342.07M74.68,235.97V342.07M91.15,235.97V342.07M107.62,235.97V342.07M140.55,235.97V342.07M157.02,235.97V342.07M173.49,235.97V342.07M189.95,235.97V342.07M222.89,235.97V342.07M239.35,235.97V342.07M255.82,235.97V342.07M272.29,235.97V342.07M305.22,235.97V342.07M321.69,235.97V342.07M338.16,235.97V342.07M354.62,235.97V342.07M387.56,235.97V342.07M404.02,235.97V342.07M420.49,235.97V342.07M436.96,235.97V342.07M469.89,235.97V342.07M486.36,235.97V342.07M502.83,235.97V342.07M519.29,235.97V342.07M552.23,235.97V342.07M568.69,235.97V342.07M585.16,235.97V342.07M601.63,235.97V342.07" stroke="#e7e7e7" stroke-width="0.7" fill="none"/>
<path d="M26.5,337.75H633.4M26.5,288.99H633.4M26.5,240.23H633.4" stroke="#e6e6e6" stroke-width="1.3" fill="none"/>
<path d="M41.75,235.97V342.07M124.09,235.97V342.07M206.42,235.97V342.07M288.75,235.97V342.07M371.09,235.97V342.07M453.43,235.97V342.07M535.76,235.97V342.07M618.1,235.97V342.07" stroke="#a8a8a8" stroke-width="1.6" fill="none"/>
<path d="M413.08,337.75h14.82v-14.78h-14.82zM429.55,337.75h14.82v-52.72h-14.82zM446.01,337.75h14.82v-86.95h-14.82zM462.48,337.75h14.82v-83.73h-14.82zM478.95,337.75h14.82v-18.78h-14.82zM495.42,337.75h14.82v-46.28h-14.82zM511.88,337.75h14.82v-36.82h-14.82zM528.35,337.75h14.82v-42.48h-14.82zM544.82,337.75h14.82v-38.09h-14.82zM561.28,337.75h14.82v-24.73h-14.82zM577.75,337.75h14.82v-20.14h-14.82zM594.22,337.75h14.82v-21.61h-14.82zM610.68,337.75h14.82v-26.68h-14.82z" fill="#E8DE30"/>
</g>
<rect x="26.5" y="235.97" width="606.9" height="106.1" fill="none" stroke="#333333" stroke-width="1.1"/>
<rect x="633.4" y="235.97" width="47.9" height="106.1" fill="#d9d9d9" stroke="#333333" stroke-width="1.1"/>
<text transform="translate(661,286.82) rotate(90)" text-anchor="middle" font-size="16.7" fill="#1a1a1a">broomcorn</text>
<text transform="translate(643.3,289.42) rotate(90)" text-anchor="middle" font-size="16.7" fill="#1a1a1a">millet</text>
<text x="17.6" y="342.3" text-anchor="end" font-size="13.7" fill="#141414">0</text>
<text x="17.6" y="293.54" text-anchor="end" font-size="13.7" fill="#141414">5</text>
<text x="17.6" y="244.78" text-anchor="end" font-size="13.7" fill="#141414">10</text>
<path d="M21.6,337.75H26.5M21.6,288.99H26.5M21.6,240.23H26.5" stroke="#262626" stroke-width="1.7" fill="none"/>
<g clip-path="url(#c3)">
<path d="M26.5,437.77H633.4M26.5,405.4H633.4M26.5,373.03H633.4M58.22,352.23V458.33M74.68,352.23V458.33M91.15,352.23V458.33M107.62,352.23V458.33M140.55,352.23V458.33M157.02,352.23V458.33M173.49,352.23V458.33M189.95,352.23V458.33M222.89,352.23V458.33M239.35,352.23V458.33M255.82,352.23V458.33M272.29,352.23V458.33M305.22,352.23V458.33M321.69,352.23V458.33M338.16,352.23V458.33M354.62,352.23V458.33M387.56,352.23V458.33M404.02,352.23V458.33M420.49,352.23V458.33M436.96,352.23V458.33M469.89,352.23V458.33M486.36,352.23V458.33M502.83,352.23V458.33M519.29,352.23V458.33M552.23,352.23V458.33M568.69,352.23V458.33M585.16,352.23V458.33M601.63,352.23V458.33" stroke="#e7e7e7" stroke-width="0.7" fill="none"/>
<path d="M26.5,453.95H633.4M26.5,421.58H633.4M26.5,389.21H633.4M26.5,356.85H633.4" stroke="#e6e6e6" stroke-width="1.3" fill="none"/>
<path d="M41.75,352.23V458.33M124.09,352.23V458.33M206.42,352.23V458.33M288.75,352.23V458.33M371.09,352.23V458.33M453.43,352.23V458.33M535.76,352.23V458.33M618.1,352.23V458.33" stroke="#a8a8a8" stroke-width="1.6" fill="none"/>
<path d="M34.34,453.95h14.82v-48.68h-14.82zM50.81,453.95h14.82v-26.02h-14.82zM67.27,453.95h14.82v-33.15h-14.82zM83.74,453.95h14.82v-33.4h-14.82zM100.21,453.95h14.82v-56.45h-14.82zM116.67,453.95h14.82v-54.25h-14.82zM133.14,453.95h14.82v-52.95h-14.82zM149.61,453.95h14.82v-40.14h-14.82zM166.08,453.95h14.82v-39.23h-14.82zM182.54,453.95h14.82v-38.32h-14.82zM199.01,453.95h14.82v-34.05h-14.82zM215.48,453.95h14.82v-20.2h-14.82zM231.94,453.95h14.82v-52.44h-14.82zM248.41,453.95h14.82v-74.83h-14.82zM264.88,453.95h14.82v-57.62h-14.82zM281.34,453.95h14.82v-71.99h-14.82zM297.81,453.95h14.82v-94.77h-14.82zM314.28,453.95h14.82v-76h-14.82zM330.75,453.95h14.82v-59.43h-14.82zM347.21,453.95h14.82v-63.18h-14.82zM363.68,453.95h14.82v-59.82h-14.82zM380.15,453.95h14.82v-58.26h-14.82zM396.61,453.95h14.82v-52.44h-14.82zM413.08,453.95h14.82v-43.5h-14.82zM429.55,453.95h14.82v-7.9h-14.82zM446.01,453.95h14.82v-7.64h-14.82zM462.48,453.95h14.82v-27.32h-14.82zM478.95,453.95h14.82v-25.77h-14.82zM495.42,453.95h14.82v-23.95h-14.82zM511.88,453.95h14.82v-23.95h-14.82zM528.35,453.95h14.82v-13.72h-14.82zM544.82,453.95h14.82v-22.01h-14.82zM561.28,453.95h14.82v-33.66h-14.82zM577.75,453.95h14.82v-41.95h-14.82zM594.22,453.95h14.82v-48.42h-14.82zM610.68,453.95h14.82v-61.89h-14.82z" fill="#C5E67D"/>
</g>
<rect x="26.5" y="352.23" width="606.9" height="106.1" fill="none" stroke="#333333" stroke-width="1.1"/>
<rect x="633.4" y="352.23" width="47.9" height="106.1" fill="#d9d9d9" stroke="#333333" stroke-width="1.1"/>
<text transform="translate(661,403.08) rotate(90)" text-anchor="middle" font-size="16.7" fill="#1a1a1a">naked</text>
<text transform="translate(643.3,405.68) rotate(90)" text-anchor="middle" font-size="16.7" fill="#1a1a1a">barley</text>
<text x="17.6" y="458.5" text-anchor="end" font-size="13.7" fill="#141414">0</text>
<text x="17.6" y="426.13" text-anchor="end" font-size="13.7" fill="#141414">25</text>
<text x="17.6" y="393.76" text-anchor="end" font-size="13.7" fill="#141414">50</text>
<text x="17.6" y="361.4" text-anchor="end" font-size="13.7" fill="#141414">75</text>
<path d="M21.6,453.95H26.5M21.6,421.58H26.5M21.6,389.21H26.5M21.6,356.85H26.5" stroke="#262626" stroke-width="1.7" fill="none"/>
<g clip-path="url(#c4)">
<path d="M26.5,559.27H633.4M26.5,537.71H633.4M26.5,516.15H633.4M26.5,494.59H633.4M26.5,473.03H633.4M58.22,468.49V574.59M74.68,468.49V574.59M91.15,468.49V574.59M107.62,468.49V574.59M140.55,468.49V574.59M157.02,468.49V574.59M173.49,468.49V574.59M189.95,468.49V574.59M222.89,468.49V574.59M239.35,468.49V574.59M255.82,468.49V574.59M272.29,468.49V574.59M305.22,468.49V574.59M321.69,468.49V574.59M338.16,468.49V574.59M354.62,468.49V574.59M387.56,468.49V574.59M404.02,468.49V574.59M420.49,468.49V574.59M436.96,468.49V574.59M469.89,468.49V574.59M486.36,468.49V574.59M502.83,468.49V574.59M519.29,468.49V574.59M552.23,468.49V574.59M568.69,468.49V574.59M585.16,468.49V574.59M601.63,468.49V574.59" stroke="#e7e7e7" stroke-width="0.7" fill="none"/>
<path d="M26.5,570.05H633.4M26.5,548.49H633.4M26.5,526.93H633.4M26.5,505.37H633.4M26.5,483.81H633.4" stroke="#e6e6e6" stroke-width="1.3" fill="none"/>
<path d="M41.75,468.49V574.59M124.09,468.49V574.59M206.42,468.49V574.59M288.75,468.49V574.59M371.09,468.49V574.59M453.43,468.49V574.59M535.76,468.49V574.59M618.1,468.49V574.59" stroke="#a8a8a8" stroke-width="1.6" fill="none"/>
<path d="M34.34,570.05h14.82v-0.75h-14.82zM50.81,570.05h14.82v-32.77h-14.82zM67.27,570.05h14.82v-0.65h-14.82zM83.74,570.05h14.82v-0.65h-14.82zM100.21,570.05h14.82v-0.17h-14.82zM116.67,570.05h14.82v-1.29h-14.82zM133.14,570.05h14.82v-1.18h-14.82zM149.61,570.05h14.82v-7.46h-14.82zM166.08,570.05h14.82v-4.83h-14.82zM182.54,570.05h14.82v-5.35h-14.82zM199.01,570.05h14.82v-4.14h-14.82zM215.48,570.05h14.82v-2.03h-14.82zM231.94,570.05h14.82v-6.04h-14.82zM248.41,570.05h14.82v-7.54h-14.82zM264.88,570.05h14.82v-1.51h-14.82zM281.34,570.05h14.82v-1.83h-14.82zM297.81,570.05h14.82v-2.15h-14.82zM314.28,570.05h14.82v-8.84h-14.82zM330.75,570.05h14.82v-4.85h-14.82zM347.21,570.05h14.82v-4.25h-14.82zM363.68,570.05h14.82v-6.04h-14.82zM380.15,570.05h14.82v-8.84h-14.82zM396.61,570.05h14.82v-18.11h-14.82zM413.08,570.05h14.82v-14.66h-14.82zM429.55,570.05h14.82v-30.61h-14.82zM446.01,570.05h14.82v-51.96h-14.82zM462.48,570.05h14.82v-56.05h-14.82zM478.95,570.05h14.82v-96.16h-14.82zM495.42,570.05h14.82v-77.18h-14.82zM511.88,570.05h14.82v-64.89h-14.82zM528.35,570.05h14.82v-50.45h-14.82zM544.82,570.05h14.82v-59.94h-14.82zM561.28,570.05h14.82v-57.35h-14.82zM577.75,570.05h14.82v-61.66h-14.82zM594.22,570.05h14.82v-45.06h-14.82zM610.68,570.05h14.82v-43.12h-14.82z" fill="#A1CF5A"/>
</g>
<rect x="26.5" y="468.49" width="606.9" height="106.1" fill="none" stroke="#333333" stroke-width="1.1"/>
<rect x="633.4" y="468.49" width="47.9" height="106.1" fill="#d9d9d9" stroke="#333333" stroke-width="1.1"/>
<text transform="translate(661,519.34) rotate(90)" text-anchor="middle" font-size="16.7" fill="#1a1a1a">hulled</text>
<text transform="translate(643.3,521.94) rotate(90)" text-anchor="middle" font-size="16.7" fill="#1a1a1a">barley</text>
<text x="17.6" y="574.6" text-anchor="end" font-size="13.7" fill="#141414">0</text>
<text x="17.6" y="553.04" text-anchor="end" font-size="13.7" fill="#141414">10</text>
<text x="17.6" y="531.48" text-anchor="end" font-size="13.7" fill="#141414">20</text>
<text x="17.6" y="509.92" text-anchor="end" font-size="13.7" fill="#141414">30</text>
<text x="17.6" y="488.36" text-anchor="end" font-size="13.7" fill="#141414">40</text>
<path d="M21.6,570.05H26.5M21.6,548.49H26.5M21.6,526.93H26.5M21.6,505.37H26.5M21.6,483.81H26.5" stroke="#262626" stroke-width="1.7" fill="none"/>
<g clip-path="url(#c5)">
<path d="M26.5,654.15H633.4M26.5,589.35H633.4M58.22,584.75V690.85M74.68,584.75V690.85M91.15,584.75V690.85M107.62,584.75V690.85M140.55,584.75V690.85M157.02,584.75V690.85M173.49,584.75V690.85M189.95,584.75V690.85M222.89,584.75V690.85M239.35,584.75V690.85M255.82,584.75V690.85M272.29,584.75V690.85M305.22,584.75V690.85M321.69,584.75V690.85M338.16,584.75V690.85M354.62,584.75V690.85M387.56,584.75V690.85M404.02,584.75V690.85M420.49,584.75V690.85M436.96,584.75V690.85M469.89,584.75V690.85M486.36,584.75V690.85M502.83,584.75V690.85M519.29,584.75V690.85M552.23,584.75V690.85M568.69,584.75V690.85M585.16,584.75V690.85M601.63,584.75V690.85" stroke="#e7e7e7" stroke-width="0.7" fill="none"/>
<path d="M26.5,686.55H633.4M26.5,621.75H633.4" stroke="#e6e6e6" stroke-width="1.3" fill="none"/>
<path d="M41.75,584.75V690.85M124.09,584.75V690.85M206.42,584.75V690.85M288.75,584.75V690.85M371.09,584.75V690.85M453.43,584.75V690.85M535.76,584.75V690.85M618.1,584.75V690.85" stroke="#a8a8a8" stroke-width="1.6" fill="none"/>
<path d="M215.48,686.55h14.82v-1.43h-14.82zM231.94,686.55h14.82v-0.98h-14.82zM314.28,686.55h14.82v-5.25h-14.82zM330.75,686.55h14.82v-76.92h-14.82zM347.21,686.55h14.82v-72.71h-14.82zM363.68,686.55h14.82v-70.57h-14.82zM380.15,686.55h14.82v-63.51h-14.82zM396.61,686.55h14.82v-63.51h-14.82zM413.08,686.55h14.82v-82.95h-14.82zM429.55,686.55h14.82v-44.52h-14.82zM446.01,686.55h14.82v-26.25h-14.82zM462.48,686.55h14.82v-6.16h-14.82zM478.95,686.55h14.82v-6.49h-14.82zM495.42,686.55h14.82v-6.49h-14.82zM511.88,686.55h14.82v-45.56h-14.82zM528.35,686.55h14.82v-48.8h-14.82zM544.82,686.55h14.82v-36.49h-14.82zM561.28,686.55h14.82v-26.57h-14.82zM577.75,686.55h14.82v-6.49h-14.82zM594.22,686.55h14.82v-8.17h-14.82zM610.68,686.55h14.82v-14h-14.82z" fill="#F0A028"/>
</g>
<rect x="26.5" y="584.75" width="606.9" height="106.1" fill="none" stroke="#333333" stroke-width="1.1"/>
<rect x="633.4" y="584.75" width="47.9" height="106.1" fill="#d9d9d9" stroke="#333333" stroke-width="1.1"/>
<text transform="translate(651.3,637.5) rotate(90)" text-anchor="middle" font-size="16.7" fill="#1a1a1a">spelt</text>
<text x="17.6" y="691.1" text-anchor="end" font-size="13.7" fill="#141414">0</text>
<text x="17.6" y="626.3" text-anchor="end" font-size="13.7" fill="#141414">10</text>
<path d="M21.6,686.55H26.5M21.6,621.75H26.5" stroke="#262626" stroke-width="1.7" fill="none"/>
<g clip-path="url(#c6)">
<path d="M26.5,778.52H633.4M26.5,729.88H633.4M58.22,701.01V807.11M74.68,701.01V807.11M91.15,701.01V807.11M107.62,701.01V807.11M140.55,701.01V807.11M157.02,701.01V807.11M173.49,701.01V807.11M189.95,701.01V807.11M222.89,701.01V807.11M239.35,701.01V807.11M255.82,701.01V807.11M272.29,701.01V807.11M305.22,701.01V807.11M321.69,701.01V807.11M338.16,701.01V807.11M354.62,701.01V807.11M387.56,701.01V807.11M404.02,701.01V807.11M420.49,701.01V807.11M436.96,701.01V807.11M469.89,701.01V807.11M486.36,701.01V807.11M502.83,701.01V807.11M519.29,701.01V807.11M552.23,701.01V807.11M568.69,701.01V807.11M585.16,701.01V807.11M601.63,701.01V807.11" stroke="#e7e7e7" stroke-width="0.7" fill="none"/>
<path d="M26.5,802.85H633.4M26.5,754.2H633.4M26.5,705.55H633.4" stroke="#e6e6e6" stroke-width="1.3" fill="none"/>
<path d="M41.75,701.01V807.11M124.09,701.01V807.11M206.42,701.01V807.11M288.75,701.01V807.11M371.09,701.01V807.11M453.43,701.01V807.11M535.76,701.01V807.11M618.1,701.01V807.11" stroke="#a8a8a8" stroke-width="1.6" fill="none"/>
<path d="M50.81,802.85h14.82v-72.98h-14.82zM67.27,802.85h14.82v-71.03h-14.82zM83.74,802.85h14.82v-70.06h-14.82zM100.21,802.85h14.82v-54.49h-14.82zM116.67,802.85h14.82v-40.87h-14.82zM133.14,802.85h14.82v-36h-14.82zM149.61,802.85h14.82v-14.45h-14.82zM166.08,802.85h14.82v-15.32h-14.82zM182.54,802.85h14.82v-0.73h-14.82zM199.01,802.85h14.82v-0.58h-14.82zM215.48,802.85h14.82v-0.58h-14.82zM231.94,802.85h14.82v-26.08h-14.82zM248.41,802.85h14.82v-35.51h-14.82zM264.88,802.85h14.82v-57.65h-14.82zM297.81,802.85h14.82v-4.62h-14.82zM314.28,802.85h14.82v-3.99h-14.82zM330.75,802.85h14.82v-37.46h-14.82zM347.21,802.85h14.82v-36.78h-14.82zM363.68,802.85h14.82v-35.27h-14.82zM380.15,802.85h14.82v-33.71h-14.82zM396.61,802.85h14.82v-33.71h-14.82zM413.08,802.85h14.82v-18.39h-14.82zM429.55,802.85h14.82v-53.03h-14.82zM446.01,802.85h14.82v-34.35h-14.82zM462.48,802.85h14.82v-11.68h-14.82zM478.95,802.85h14.82v-23.94h-14.82zM495.42,802.85h14.82v-14.11h-14.82zM511.88,802.85h14.82v-10.12h-14.82zM528.35,802.85h14.82v-11.34h-14.82zM544.82,802.85h14.82v-10.46h-14.82zM561.28,802.85h14.82v-10.12h-14.82zM577.75,802.85h14.82v-18.73h-14.82zM594.22,802.85h14.82v-9.24h-14.82zM610.68,802.85h14.82v-16.25h-14.82z" fill="#EE8623"/>
</g>
<rect x="26.5" y="701.01" width="606.9" height="106.1" fill="none" stroke="#333333" stroke-width="1.1"/>
<rect x="633.4" y="701.01" width="47.9" height="106.1" fill="#d9d9d9" stroke="#333333" stroke-width="1.1"/>
<text transform="translate(661,751.86) rotate(90)" text-anchor="middle" font-size="16.7" fill="#1a1a1a">free-threshing</text>
<text transform="translate(643.3,754.46) rotate(90)" text-anchor="middle" font-size="16.7" fill="#1a1a1a">wheat</text>
<text x="17.6" y="807.4" text-anchor="end" font-size="13.7" fill="#141414">0</text>
<text x="17.6" y="758.75" text-anchor="end" font-size="13.7" fill="#141414">10</text>
<text x="17.6" y="710.1" text-anchor="end" font-size="13.7" fill="#141414">20</text>
<path d="M21.6,802.85H26.5M21.6,754.2H26.5M21.6,705.55H26.5" stroke="#262626" stroke-width="1.7" fill="none"/>
<g clip-path="url(#c7)">
<path d="M26.5,894.65H633.4M26.5,846.05H633.4M58.22,817.27V923.37M74.68,817.27V923.37M91.15,817.27V923.37M107.62,817.27V923.37M140.55,817.27V923.37M157.02,817.27V923.37M173.49,817.27V923.37M189.95,817.27V923.37M222.89,817.27V923.37M239.35,817.27V923.37M255.82,817.27V923.37M272.29,817.27V923.37M305.22,817.27V923.37M321.69,817.27V923.37M338.16,817.27V923.37M354.62,817.27V923.37M387.56,817.27V923.37M404.02,817.27V923.37M420.49,817.27V923.37M436.96,817.27V923.37M469.89,817.27V923.37M486.36,817.27V923.37M502.83,817.27V923.37M519.29,817.27V923.37M552.23,817.27V923.37M568.69,817.27V923.37M585.16,817.27V923.37M601.63,817.27V923.37" stroke="#e7e7e7" stroke-width="0.7" fill="none"/>
<path d="M26.5,918.95H633.4M26.5,870.35H633.4M26.5,821.75H633.4" stroke="#e6e6e6" stroke-width="1.3" fill="none"/>
<path d="M41.75,817.27V923.37M124.09,817.27V923.37M206.42,817.27V923.37M288.75,817.27V923.37M371.09,817.27V923.37M453.43,817.27V923.37M535.76,817.27V923.37M618.1,817.27V923.37" stroke="#a8a8a8" stroke-width="1.6" fill="none"/>
<path d="M34.34,918.95h14.82v-13.86h-14.82zM50.81,918.95h14.82v-30.38h-14.82zM67.27,918.95h14.82v-19.69h-14.82zM83.74,918.95h14.82v-21.54h-14.82zM100.21,918.95h14.82v-15.7h-14.82zM116.67,918.95h14.82v-9.58h-14.82zM133.14,918.95h14.82v-3.46h-14.82zM149.61,918.95h14.82v-8.03h-14.82zM166.08,918.95h14.82v-9.29h-14.82zM182.54,918.95h14.82v-8.03h-14.82zM199.01,918.95h14.82v-5.89h-14.82zM215.48,918.95h14.82v-6.86h-14.82zM231.94,918.95h14.82v-2.78h-14.82zM248.41,918.95h14.82v-0.49h-14.82zM264.88,918.95h14.82v-0.49h-14.82zM314.28,918.95h14.82v-2.19h-14.82zM330.75,918.95h14.82v-66.93h-14.82zM347.21,918.95h14.82v-63.24h-14.82zM363.68,918.95h14.82v-60.71h-14.82zM380.15,918.95h14.82v-57.11h-14.82zM396.61,918.95h14.82v-57.11h-14.82zM413.08,918.95h14.82v-74.51h-14.82zM429.55,918.95h14.82v-21.83h-14.82zM446.01,918.95h14.82v-30.38h-14.82zM462.48,918.95h14.82v-21.54h-14.82zM478.95,918.95h14.82v-4.62h-14.82zM495.42,918.95h14.82v-4.62h-14.82zM511.88,918.95h14.82v-3.17h-14.82zM528.35,918.95h14.82v-3.46h-14.82zM544.82,918.95h14.82v-4.04h-14.82zM561.28,918.95h14.82v-5.89h-14.82zM577.75,918.95h14.82v-4.92h-14.82zM594.22,918.95h14.82v-1.9h-14.82zM610.68,918.95h14.82v-3.75h-14.82z" fill="#CD6608"/>
</g>
<rect x="26.5" y="817.27" width="606.9" height="106.1" fill="none" stroke="#333333" stroke-width="1.1"/>
<rect x="633.4" y="817.27" width="47.9" height="106.1" fill="#d9d9d9" stroke="#333333" stroke-width="1.1"/>
<text transform="translate(651.3,870.02) rotate(90)" text-anchor="middle" font-size="16.7" fill="#1a1a1a">einkorn</text>
<text x="17.6" y="923.5" text-anchor="end" font-size="13.7" fill="#141414">0</text>
<text x="17.6" y="874.9" text-anchor="end" font-size="13.7" fill="#141414">5</text>
<text x="17.6" y="826.3" text-anchor="end" font-size="13.7" fill="#141414">10</text>
<path d="M21.6,918.95H26.5M21.6,870.35H26.5M21.6,821.75H26.5" stroke="#262626" stroke-width="1.7" fill="none"/>
<g clip-path="url(#c8)">
<path d="M26.5,1021H633.4M26.5,992.5H633.4M26.5,964H633.4M26.5,935.5H633.4M58.22,933.53V1039.63M74.68,933.53V1039.63M91.15,933.53V1039.63M107.62,933.53V1039.63M140.55,933.53V1039.63M157.02,933.53V1039.63M173.49,933.53V1039.63M189.95,933.53V1039.63M222.89,933.53V1039.63M239.35,933.53V1039.63M255.82,933.53V1039.63M272.29,933.53V1039.63M305.22,933.53V1039.63M321.69,933.53V1039.63M338.16,933.53V1039.63M354.62,933.53V1039.63M387.56,933.53V1039.63M404.02,933.53V1039.63M420.49,933.53V1039.63M436.96,933.53V1039.63M469.89,933.53V1039.63M486.36,933.53V1039.63M502.83,933.53V1039.63M519.29,933.53V1039.63M552.23,933.53V1039.63M568.69,933.53V1039.63M585.16,933.53V1039.63M601.63,933.53V1039.63" stroke="#e7e7e7" stroke-width="0.7" fill="none"/>
<path d="M26.5,1035.25H633.4M26.5,1006.75H633.4M26.5,978.25H633.4M26.5,949.75H633.4" stroke="#e6e6e6" stroke-width="1.3" fill="none"/>
<path d="M41.75,933.53V1039.63M124.09,933.53V1039.63M206.42,933.53V1039.63M288.75,933.53V1039.63M371.09,933.53V1039.63M453.43,933.53V1039.63M535.76,933.53V1039.63M618.1,933.53V1039.63" stroke="#a8a8a8" stroke-width="1.6" fill="none"/>
<path d="M34.34,1035.25h14.82v-69.28h-14.82zM50.81,1035.25h14.82v-52.98h-14.82zM67.27,1035.25h14.82v-65.64h-14.82zM83.74,1035.25h14.82v-65.29h-14.82zM100.21,1035.25h14.82v-49.68h-14.82zM116.67,1035.25h14.82v-54.92h-14.82zM133.14,1035.25h14.82v-57.88h-14.82zM149.61,1035.25h14.82v-70.54h-14.82zM166.08,1035.25h14.82v-72.36h-14.82zM182.54,1035.25h14.82v-76.35h-14.82zM199.01,1035.25h14.82v-81.25h-14.82zM215.48,1035.25h14.82v-94.14h-14.82zM231.94,1035.25h14.82v-57.88h-14.82zM248.41,1035.25h14.82v-35.88h-14.82zM264.88,1035.25h14.82v-48.76h-14.82zM281.34,1035.25h14.82v-49.33h-14.82zM297.81,1035.25h14.82v-28.24h-14.82zM314.28,1035.25h14.82v-40.21h-14.82zM330.75,1035.25h14.82v-28.81h-14.82zM347.21,1035.25h14.82v-27.33h-14.82zM363.68,1035.25h14.82v-30.07h-14.82zM380.15,1035.25h14.82v-32.23h-14.82zM396.61,1035.25h14.82v-32.23h-14.82zM413.08,1035.25h14.82v-38.28h-14.82zM429.55,1035.25h14.82v-61.65h-14.82zM446.01,1035.25h14.82v-52.98h-14.82zM462.48,1035.25h14.82v-43.86h-14.82zM478.95,1035.25h14.82v-30.64h-14.82zM495.42,1035.25h14.82v-42.04h-14.82zM511.88,1035.25h14.82v-43.52h-14.82zM528.35,1035.25h14.82v-58.91h-14.82zM544.82,1035.25h14.82v-49.33h-14.82zM561.28,1035.25h14.82v-43.18h-14.82zM577.75,1035.25h14.82v-35.54h-14.82zM594.22,1035.25h14.82v-41.13h-14.82zM610.68,1035.25h14.82v-26.42h-14.82z" fill="#8A4508"/>
</g>
<rect x="26.5" y="933.53" width="606.9" height="106.1" fill="none" stroke="#333333" stroke-width="1.1"/>
<rect x="633.4" y="933.53" width="47.9" height="106.1" fill="#d9d9d9" stroke="#333333" stroke-width="1.1"/>
<text transform="translate(651.3,986.28) rotate(90)" text-anchor="middle" font-size="16.7" fill="#1a1a1a">emmer</text>
<text x="17.6" y="1039.8" text-anchor="end" font-size="13.7" fill="#141414">0</text>
<text x="17.6" y="1011.3" text-anchor="end" font-size="13.7" fill="#141414">25</text>
<text x="17.6" y="982.8" text-anchor="end" font-size="13.7" fill="#141414">50</text>
<text x="17.6" y="954.3" text-anchor="end" font-size="13.7" fill="#141414">75</text>
<path d="M21.6,1035.25H26.5M21.6,1006.75H26.5M21.6,978.25H26.5M21.6,949.75H26.5" stroke="#262626" stroke-width="1.7" fill="none"/>
<text x="614.4" y="36.4" text-anchor="end" font-size="11.7" font-weight="bold" fill="#111">n=14</text>
<text x="614.4" y="144.6" text-anchor="end" font-size="11.7" font-weight="bold" fill="#111">n=35</text>
<text x="41.45" y="1060.6" text-anchor="middle" font-size="16.6" fill="#141414">-4000</text>
<text x="123.79" y="1060.6" text-anchor="middle" font-size="16.6" fill="#141414">-3500</text>
<text x="206.12" y="1060.6" text-anchor="middle" font-size="16.6" fill="#141414">-3000</text>
<text x="288.45" y="1060.6" text-anchor="middle" font-size="16.6" fill="#141414">-2500</text>
<text x="370.79" y="1060.6" text-anchor="middle" font-size="16.6" fill="#141414">-2000</text>
<text x="453.12" y="1060.6" text-anchor="middle" font-size="16.6" fill="#141414">-1500</text>
<text x="535.46" y="1060.6" text-anchor="middle" font-size="16.6" fill="#141414">-1000</text>
<text x="617.8" y="1060.6" text-anchor="middle" font-size="16.6" fill="#141414">-500</text>
<path d="M41.75,1039.63V1044.73M124.09,1039.63V1044.73M206.42,1039.63V1044.73M288.75,1039.63V1044.73M371.09,1039.63V1044.73M453.43,1039.63V1044.73M535.76,1039.63V1044.73M618.1,1039.63V1044.73" stroke="#262626" stroke-width="1.7" fill="none"/>
<text x="330" y="1082.6" text-anchor="middle" font-size="20" font-weight="bold" fill="#111">Age BCE</text>
</svg>
</body></html>
